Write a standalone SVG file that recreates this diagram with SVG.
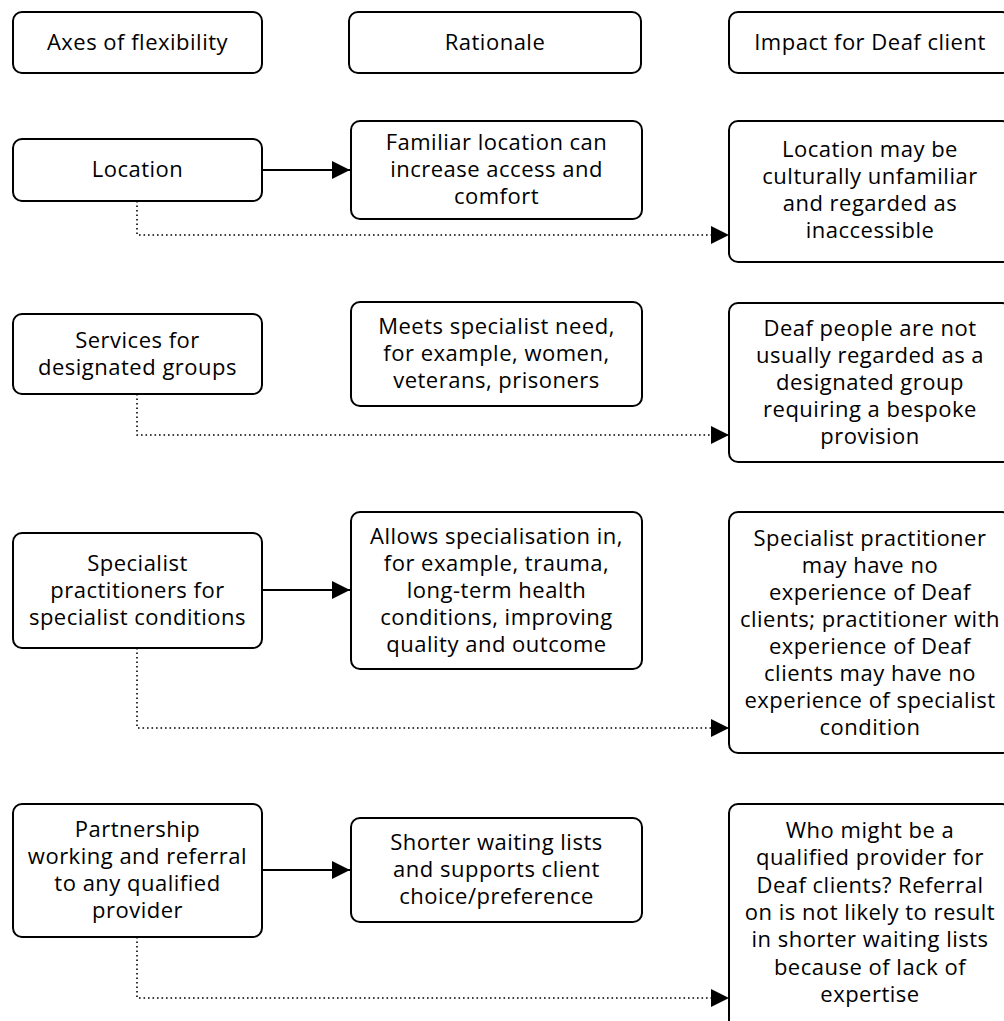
<svg xmlns="http://www.w3.org/2000/svg" width="1004" height="1021" viewBox="0 0 1004 1021">
  <style>
    .box { fill: #ffffff; stroke: #000000; stroke-width: 2; }
    .lbl { font-family: "Open Sans", "Noto Sans", "Liberation Sans", sans-serif; font-size: 22px; letter-spacing: 0.5px; fill: #000000; text-anchor: middle; }
    .solid { fill: none; stroke: #000000; stroke-width: 2; }
    .dotted { fill: none; stroke: #000000; stroke-width: 1.6; stroke-dasharray: 1.6 2.9; }
  </style>
  <defs>
    <marker id="head" markerUnits="userSpaceOnUse" markerWidth="18" markerHeight="18" viewBox="0 0 16 16" refX="16" refY="8" orient="auto">
      <path d="M0,0 L16,8 L0,16 Z" fill="#000000"/>
    </marker>
  </defs>
  <rect width="1004" height="1021" fill="#ffffff"/>

  <!-- column headings -->
  <g id="head-axes">
    <rect class="box" x="13" y="12" width="249" height="61" rx="9"/>
    <text class="lbl" x="137.5" y="50">Axes of flexibility</text>
  </g>
  <g id="head-rationale">
    <rect class="box" x="349" y="12" width="292" height="61" rx="9"/>
    <text class="lbl" x="495" y="50">Rationale</text>
  </g>
  <g id="head-impact">
    <rect class="box" x="729" y="12" width="282" height="61" rx="9"/>
    <text class="lbl" x="870" y="50">Impact for Deaf client</text>
  </g>

  <!-- row 1: location -->
  <g id="axis-location">
    <rect class="box" x="13" y="139" width="249" height="62" rx="9"/>
    <text class="lbl" x="137.5" y="177">Location</text>
  </g>
  <g id="rationale-location">
    <rect class="box" x="351" y="121" width="291" height="98" rx="9"/>
    <text class="lbl" x="496.5" y="150">Familiar location can</text>
    <text class="lbl" x="496.5" y="177">increase access and</text>
    <text class="lbl" x="496.5" y="204">comfort</text>
  </g>
  <g id="impact-location">
    <rect class="box" x="729" y="121" width="282" height="141" rx="9"/>
    <text class="lbl" x="870" y="157">Location may be</text>
    <text class="lbl" x="870" y="184">culturally unfamiliar</text>
    <text class="lbl" x="870" y="211">and regarded as</text>
    <text class="lbl" x="870" y="238">inaccessible</text>
  </g>

  <!-- row 2: designated groups -->
  <g id="axis-groups">
    <rect class="box" x="13" y="314" width="249" height="80" rx="9"/>
    <text class="lbl" x="137.5" y="348">Services for</text>
    <text class="lbl" x="137.5" y="375">designated groups</text>
  </g>
  <g id="rationale-groups">
    <rect class="box" x="351" y="302" width="291" height="104" rx="9"/>
    <text class="lbl" x="496.5" y="334">Meets specialist need,</text>
    <text class="lbl" x="496.5" y="361">for example, women,</text>
    <text class="lbl" x="496.5" y="388">veterans, prisoners</text>
  </g>
  <g id="impact-groups">
    <rect class="box" x="729" y="303" width="282" height="159" rx="9"/>
    <text class="lbl" x="870" y="336">Deaf people are not</text>
    <text class="lbl" x="870" y="363">usually regarded as a</text>
    <text class="lbl" x="870" y="390">designated group</text>
    <text class="lbl" x="870" y="417">requiring a bespoke</text>
    <text class="lbl" x="870" y="444">provision</text>
  </g>

  <!-- row 3: specialist practitioners -->
  <g id="axis-specialist">
    <rect class="box" x="13" y="533" width="249" height="115" rx="9"/>
    <text class="lbl" x="137.5" y="571">Specialist</text>
    <text class="lbl" x="137.5" y="598">practitioners for</text>
    <text class="lbl" x="137.5" y="625">specialist conditions</text>
  </g>
  <g id="rationale-specialist">
    <rect class="box" x="351" y="512" width="291" height="157" rx="9"/>
    <text class="lbl" x="496.5" y="544">Allows specialisation in,</text>
    <text class="lbl" x="496.5" y="571">for example, trauma,</text>
    <text class="lbl" x="496.5" y="598">long-term health</text>
    <text class="lbl" x="496.5" y="625">conditions, improving</text>
    <text class="lbl" x="496.5" y="652">quality and outcome</text>
  </g>
  <g id="impact-specialist">
    <rect class="box" x="729" y="512" width="282" height="241" rx="9"/>
    <text class="lbl" x="870" y="546">Specialist practitioner</text>
    <text class="lbl" x="870" y="573">may have no</text>
    <text class="lbl" x="870" y="600">experience of Deaf</text>
    <text class="lbl" x="870" y="627">clients; practitioner with</text>
    <text class="lbl" x="870" y="654">experience of Deaf</text>
    <text class="lbl" x="870" y="681">clients may have no</text>
    <text class="lbl" x="870" y="708">experience of specialist</text>
    <text class="lbl" x="870" y="735">condition</text>
  </g>

  <!-- row 4: partnership working -->
  <g id="axis-partnership">
    <rect class="box" x="13" y="804" width="249" height="133" rx="9"/>
    <text class="lbl" x="137.5" y="837">Partnership</text>
    <text class="lbl" x="137.5" y="864">working and referral</text>
    <text class="lbl" x="137.5" y="891">to any qualified</text>
    <text class="lbl" x="137.5" y="918">provider</text>
  </g>
  <g id="rationale-partnership">
    <rect class="box" x="351" y="818" width="291" height="104" rx="9"/>
    <text class="lbl" x="496.5" y="850">Shorter waiting lists</text>
    <text class="lbl" x="496.5" y="877">and supports client</text>
    <text class="lbl" x="496.5" y="904">choice/preference</text>
  </g>
  <g id="impact-partnership">
    <rect class="box" x="729" y="804" width="282" height="240" rx="9"/>
    <text class="lbl" x="870" y="838">Who might be a</text>
    <text class="lbl" x="870" y="865">qualified provider for</text>
    <text class="lbl" x="870" y="893">Deaf clients? Referral</text>
    <text class="lbl" x="870" y="920">on is not likely to result</text>
    <text class="lbl" x="870" y="947">in shorter waiting lists</text>
    <text class="lbl" x="870" y="975">because of lack of</text>
    <text class="lbl" x="870" y="1002">expertise</text>
  </g>

  <!-- connectors -->
  <g id="connectors">
    <path class="solid" d="M262,170 H350" marker-end="url(#head)"/>
    <path class="dotted" d="M137,201 V235 H729" marker-end="url(#head)"/>
    <path class="dotted" d="M137,394 V435 H729" marker-end="url(#head)"/>
    <path class="solid" d="M262,590 H350" marker-end="url(#head)"/>
    <path class="dotted" d="M137,648 V728 H729" marker-end="url(#head)"/>
    <path class="solid" d="M262,870 H350" marker-end="url(#head)"/>
    <path class="dotted" d="M137,937 V998 H729" marker-end="url(#head)"/>
  </g>
</svg>
